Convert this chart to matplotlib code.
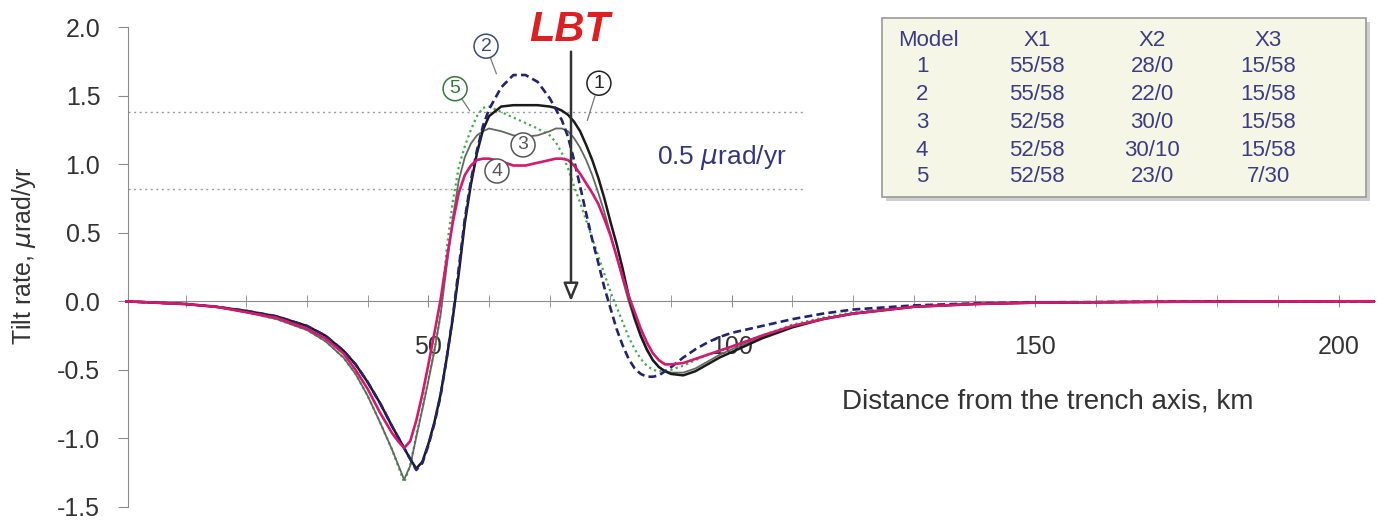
import matplotlib
matplotlib.use('Agg')
import matplotlib.pyplot as plt
from matplotlib.patches import Rectangle

plt.rcParams['font.family'] = ['Liberation Sans', 'DejaVu Sans']

# distance from the trench axis, km (shared grid for all models)
km = [0, 5, 10, 15, 20, 25, 30, 33, 36, 38,
      40, 42, 44,
      45, 46, 47, 48, 49, 50, 51, 52, 53, 54, 55, 56, 57, 58, 59, 60,
      62, 64, 66, 68, 70,
      71, 72, 73, 74, 75, 76, 77, 78, 79, 80, 81, 82, 83, 84, 85, 86, 87, 88, 89, 90,
      92, 94, 96, 98, 100,
      105, 110, 115, 120,
      130, 140, 150, 170, 190, 206]

# tilt rate, urad/yr
model1 = [0, -0.01, -0.02, -0.04, -0.07, -0.11, -0.18, -0.25, -0.36, -0.46,
          -0.59, -0.74, -0.91,
          -0.99, -1.07, -1.15, -1.22, -1.17, -1.04, -0.88, -0.68, -0.42, -0.13, 0.2, 0.57, 0.85, 1.08, 1.25, 1.35,
          1.42, 1.43, 1.43, 1.43, 1.42,
          1.41, 1.39, 1.36, 1.31, 1.24, 1.14, 1.03, 0.9, 0.75, 0.58, 0.42, 0.24, 0.04, -0.12, -0.25, -0.35, -0.43, -0.48, -0.51, -0.53,
          -0.54, -0.51, -0.46, -0.41, -0.37,
          -0.27, -0.19, -0.13, -0.09,
          -0.04, -0.02, -0.01, -0.004, -0.001, 0]
model2 = [0, -0.01, -0.02, -0.04, -0.07, -0.11, -0.18, -0.25, -0.36, -0.46,
          -0.59, -0.74, -0.91,
          -0.99, -1.07, -1.15, -1.23, -1.18, -1.05, -0.89, -0.69, -0.42, -0.12, 0.24, 0.6, 0.88, 1.1, 1.28, 1.4,
          1.56, 1.65, 1.65, 1.6, 1.48,
          1.4, 1.32, 1.2, 1.03, 0.84, 0.64, 0.45, 0.28, 0.1, -0.05, -0.2, -0.32, -0.42, -0.49, -0.53, -0.55, -0.55, -0.54, -0.51, -0.48,
          -0.41, -0.35, -0.3, -0.26, -0.23,
          -0.18, -0.13, -0.09, -0.06,
          -0.03, -0.015, -0.008, -0.003, -0.001, 0]
model3 = [0, -0.01, -0.02, -0.04, -0.08, -0.13, -0.21, -0.29, -0.41, -0.53,
          -0.69, -0.88, -1.08,
          -1.19, -1.3, -1.2, -0.99, -0.79, -0.58, -0.36, -0.1, 0.25, 0.6, 0.88, 1.05, 1.15, 1.21, 1.24, 1.26,
          1.24, 1.21, 1.2, 1.21, 1.24,
          1.26, 1.26, 1.24, 1.19, 1.12, 1.03, 0.92, 0.79, 0.65, 0.49, 0.33, 0.16, 0.0, -0.14, -0.26, -0.36, -0.43, -0.48, -0.51, -0.52,
          -0.52, -0.49, -0.44, -0.39, -0.35,
          -0.26, -0.18, -0.13, -0.09,
          -0.04, -0.02, -0.01, -0.004, -0.001, 0]
model4 = [0, -0.01, -0.02, -0.04, -0.08, -0.12, -0.2, -0.27, -0.38, -0.5,
          -0.64, -0.81, -0.96,
          -1.02, -1.07, -1.02, -0.87, -0.68, -0.46, -0.23, 0.01, 0.3, 0.57, 0.79, 0.92, 0.99, 1.03, 1.04, 1.04,
          1.02, 0.99, 0.99, 1.01, 1.03,
          1.04, 1.04, 1.03, 0.99, 0.93, 0.86, 0.79, 0.71, 0.6, 0.48, 0.33, 0.18, 0.04, -0.08, -0.2, -0.3, -0.38, -0.43, -0.46, -0.46,
          -0.45, -0.42, -0.39, -0.36, -0.33,
          -0.25, -0.18, -0.13, -0.09,
          -0.04, -0.02, -0.01, -0.004, -0.001, 0]
model5 = [0, -0.01, -0.02, -0.04, -0.08, -0.13, -0.21, -0.29, -0.41, -0.53,
          -0.69, -0.88, -1.08,
          -1.2, -1.32, -1.2, -0.98, -0.78, -0.57, -0.35, -0.1, 0.38, 0.72, 0.98, 1.13, 1.25, 1.35, 1.41, 1.42,
          1.38, 1.34, 1.3, 1.26, 1.21,
          1.16, 1.08, 0.97, 0.84, 0.72, 0.59, 0.46, 0.33, 0.2, 0.07, -0.04, -0.15, -0.26, -0.35, -0.42, -0.47, -0.5, -0.51, -0.51, -0.5,
          -0.47, -0.43, -0.39, -0.36, -0.33,
          -0.25, -0.17, -0.12, -0.08,
          -0.04, -0.02, -0.01, -0.004, -0.001, 0]

# table of model parameters
table_header = ['Model', 'X1', 'X2', 'X3']
model_ids = ['1', '2', '3', '4', '5']
x1_vals = ['55/58', '55/58', '52/58', '52/58', '52/58']
x2_vals = ['28/0', '22/0', '30/0', '30/10', '23/0']
x3_vals = ['15/58', '15/58', '15/58', '15/58', '7/30']

lbt_km = 73.5
ref_levels = [1.38, 0.82]

W, H = 1384, 521
fig = plt.figure(figsize=(W / 100, H / 100), dpi=100)
ax = fig.add_axes([125 / W, 1 - 507 / H, (1375 - 125) / W, (507 - 27) / H])
ax.set_xlim(0, 206)
ax.set_ylim(-1.5, 2.0)

# reference levels (0.5 urad/yr band)
for lv in ref_levels:
    ax.plot([0.5, 112], [lv, lv], color='#9a9a9a', lw=1.0, ls=(0, (1.5, 2.5)), zorder=1)
ax.text(87.6, 1.05, r'0.5 $\mu$rad/yr', color='#35357f', fontsize=19,
        ha='left', va='center')

# the curves
ax.plot(km, model5, color='#3cae48', lw=1.6, ls=(0, (1, 1.5)), zorder=3)
ax.plot(km, model3, color='#5f6b5f', lw=1.3, zorder=3)
ax.plot(km, model1, color='#1a1a1a', lw=1.8, zorder=4)
ax.plot(km, model2, color='#23236f', lw=1.9, ls=(0, (3, 1.6)), zorder=5)
ax.plot(km, model4, color='#d6186e', lw=1.9, zorder=6)

# circled model numbers
labels = [('1', 78.1, 1.59, '#222222', (76.2, 1.32)),
          ('2', 59.5, 1.86, '#3a4a7a', (61.2, 1.66)),
          ('5', 54.4, 1.55, '#2f7a35', (56.8, 1.39)),
          ('3', 65.6, 1.14, '#555555', None),
          ('4', 61.3, 0.95, '#555555', None)]
for num, lx, ly, col, tip in labels:
    if tip is not None:
        ax.plot([lx + (tip[0] - lx) * 0.35, tip[0]], [ly + (tip[1] - ly) * 0.35, tip[1]],
                color='#777777', lw=0.9, zorder=7)
    ax.text(lx, ly, num, fontsize=14, color=col, ha='center', va='center', zorder=8,
            bbox=dict(boxstyle='circle,pad=0.18', fc='white', ec=col, lw=1.1))

# LBT arrow
ax.annotate('', xy=(lbt_km, 0.0), xytext=(lbt_km, 1.82),
            arrowprops=dict(arrowstyle='-|>,head_length=1.1,head_width=0.45', fc='white',
                            ec='#333333', lw=1.8, shrinkA=0, shrinkB=0), zorder=9)
ax.text(lbt_km - 0.3, 1.98, 'LBT', color='#dd1f1f', fontsize=30, fontweight='bold',
        fontstyle='italic', ha='center', va='center', clip_on=False)

# axes styling
for s in ['top', 'right']:
    ax.spines[s].set_visible(False)
ax.spines['bottom'].set_position(('data', 0))
ax.spines['bottom'].set_color('#8a8a8a')
ax.spines['left'].set_color('#8a8a8a')
ax.spines['left'].set_position(('data', 0.5))
ax.spines['bottom'].set_zorder(0)

ax.set_xticks([50, 100, 150, 200])
ax.set_xticks(list(range(10, 210, 10)), minor=True)
ax.tick_params(axis='x', which='both', direction='inout', length=8, color='#8a8a8a',
               labelsize=18, pad=20, labelcolor='#333333')
ax.set_yticks([-1.5, -1.0, -0.5, 0.0, 0.5, 1.0, 1.5, 2.0])
ax.set_yticklabels(['-1.5', '-1.0', '-0.5', '0.0', '0.5', '1.0', '1.5', '2.0'])
ax.tick_params(axis='y', direction='out', length=7, color='#8a8a8a', labelsize=18,
               pad=13, labelcolor='#333333')

ax.text(152, -0.73, 'Distance from the trench axis, km', fontsize=20, color='#333333',
        ha='center', va='center')
fig.text(24 / W, 1 - 256 / H, r'Tilt rate, $\mu$rad/yr', rotation=90, fontsize=18,
         color='#333333', ha='center', va='center')

# parameter table box
bx0, by0, bx1, by1 = 882 / W, 1 - 197 / H, 1366 / W, 1 - 18 / H
fig.patches.append(Rectangle((bx0 + 4 / W, by0 - 4 / H), bx1 - bx0, by1 - by0,
                             transform=fig.transFigure, fc='#cfcfcf', ec='none', zorder=1))
fig.patches.append(Rectangle((bx0, by0), bx1 - bx0, by1 - by0, transform=fig.transFigure,
                             fc='#f5f6e6', ec='#9a9a9a', lw=1.2, zorder=2))
col_x = [922, 1037, 1152, 1268]
row_y = [41, 67, 95, 122, 150, 177]
tcol = '#3c3c85'
fig.text(928 / W, 1 - row_y[0] / H, table_header[0], fontsize=16, color=tcol,
         ha='center', va='center', zorder=3)
for j in range(1, 4):
    fig.text(col_x[j] / W, 1 - row_y[0] / H, table_header[j], fontsize=16, color=tcol,
             ha='center', va='center', zorder=3)
for i in range(5):
    yy = 1 - row_y[i + 1] / H
    for j, val in enumerate([model_ids[i], x1_vals[i], x2_vals[i], x3_vals[i]]):
        fig.text(col_x[j] / W, yy, val, fontsize=16, color=tcol, ha='center',
                 va='center', zorder=3)

fig.savefig('out.png', dpi=100)
